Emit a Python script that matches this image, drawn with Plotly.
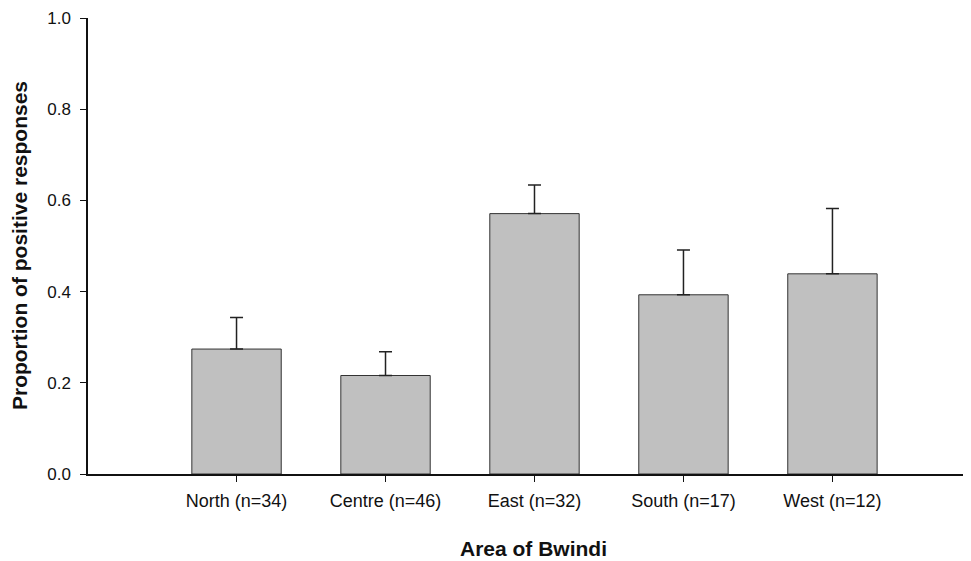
import plotly.graph_objects as go

categories = ["North (n=34)", "Centre (n=46)", "East (n=32)", "South (n=17)", "West (n=12)"]
proportions = [0.274, 0.216, 0.571, 0.393, 0.439]
errors_upper = [0.069, 0.052, 0.063, 0.098, 0.143]
y_ticks = [0.0, 0.2, 0.4, 0.6, 0.8, 1.0]

fig = go.Figure(
    go.Bar(
        x=categories,
        y=proportions,
        width=0.6,
        marker=dict(color="#c0c0c0", line=dict(color="#333333", width=1)),
        error_y=dict(type="data", array=errors_upper, symmetric=False,
                     arrayminus=[0] * len(errors_upper),
                     color="#222222", thickness=1.5, width=6.5),
    )
)

font_family = "Liberation Sans, Arial, sans-serif"
# page body has an 8px offset; figure sized so the plot area spans x 88..971, y 18..474
fig.update_layout(
    width=963, height=553,
    margin=dict(l=80, r=0, t=10, b=87),
    plot_bgcolor="white", paper_bgcolor="white",
    showlegend=False,
    font=dict(family=font_family, color="#111111", size=18),
    annotations=[
        dict(text="<b>Area of Bwindi</b>", xref="paper", yref="paper",
             x=0.504, y=-0.1623, xanchor="center", yanchor="middle",
             showarrow=False, font=dict(size=21, color="#111111")),
        dict(text="<b>Proportion of positive responses</b>", xref="paper", yref="paper",
             x=-0.0781, y=0.5, xanchor="center", yanchor="middle", textangle=-90,
             showarrow=False, font=dict(size=21, color="#111111")),
    ],
)
fig.update_xaxes(
    range=[-0.997, 4.93],
    showline=True, linecolor="#111111", linewidth=1.5,
    ticks="outside", ticklen=6, tickcolor="#111111", tickwidth=1,
    tickfont=dict(size=18), ticklabelstandoff=4,
    showgrid=False, zeroline=False,
)
fig.update_yaxes(
    range=[0, 1.0],
    tickvals=y_ticks, ticktext=[f"{v:.1f}" for v in y_ticks],
    showline=True, linecolor="#111111", linewidth=1.5,
    ticks="outside", ticklen=6, tickcolor="#111111", tickwidth=1,
    tickfont=dict(size=17), ticklabelstandoff=6,
    showgrid=False, zeroline=False,
)

fig.write_html("out.html")
